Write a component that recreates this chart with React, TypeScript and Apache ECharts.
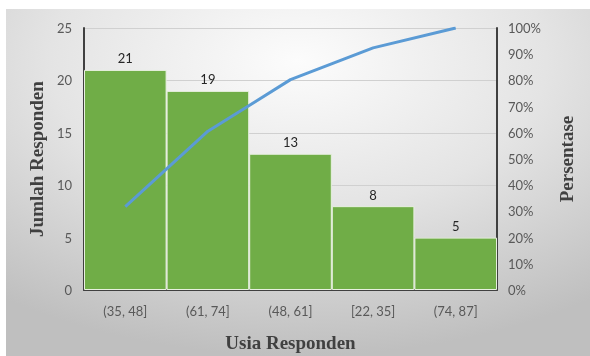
import React, { useEffect, useRef } from "react";
import * as echarts from "echarts";

const categories = ["(35, 48]", "(61, 74]", "(48, 61]", "[22, 35]", "(74, 87]"];
const counts = [21, 19, 13, 8, 5];
const cumulativePct = [0.318, 0.606, 0.803, 0.924, 1.0];
const leftTicks = { min: 0, max: 25, interval: 5 };
const rightTicks = { min: 0, max: 1, interval: 0.1 };

export default function App() {
  const ref = useRef<HTMLDivElement>(null);
  useEffect(() => {
    document.body.style.margin = "0";
    const chart = echarts.init(ref.current!, null, { renderer: "svg" });
    const labelFont = "Lato";
    const titleStyle = {
      fontFamily: "Liberation Serif",
      fontWeight: "bold" as const,
      fontSize: 19,
      color: "#404040",
    };
    chart.setOption({
      animation: false,
      graphic: [
        {
          type: "rect",
          z: -10,
          silent: true,
          shape: { x: 6, y: 9, width: 584, height: 347 },
          style: {
            fill: new echarts.graphic.RadialGradient(0.5, 0.15, 0.85, [
              { offset: 0, color: "#fcfcfc" },
              { offset: 0.5, color: "#e4e4e4" },
              { offset: 1, color: "#bfbfbf" },
            ]),
          },
        },
      ],
      grid: { left: 84, right: 93, top: 28, bottom: 66, outerBoundsMode: "none", containLabel: false },
      xAxis: {
        type: "category",
        data: categories,
        boundaryGap: true,
        axisLine: { show: true, lineStyle: { color: "#404040", width: 2 } },
        axisTick: { show: false },
        axisLabel: { color: "#595959", fontSize: 13, fontFamily: labelFont, margin: 14 },
        name: "Usia Responden",
        nameLocation: "middle",
        nameGap: 43,
        nameTextStyle: titleStyle,
      },
      yAxis: [
        {
          type: "value",
          min: leftTicks.min,
          max: leftTicks.max,
          interval: leftTicks.interval,
          axisLine: { show: true, lineStyle: { color: "#404040", width: 2 } },
          axisTick: { show: false },
          axisLabel: { color: "#595959", fontSize: 13, fontFamily: labelFont, margin: 12 },
          splitLine: { show: true, lineStyle: { color: "#d0d0d0", width: 1 } },
          name: "Jumlah Responden",
          nameLocation: "middle",
          nameRotate: 90,
          nameGap: 38,
          nameTextStyle: titleStyle,
        },
        {
          type: "value",
          position: "right",
          min: rightTicks.min,
          max: rightTicks.max,
          interval: rightTicks.interval,
          axisLine: { show: true, lineStyle: { color: "#404040", width: 2 } },
          axisTick: { show: false },
          axisLabel: {
            color: "#595959",
            fontSize: 13,
            fontFamily: labelFont,
            margin: 11,
            formatter: (v: number) => Math.round(v * 100) + "%",
          },
          splitLine: { show: false },
          name: "Persentase",
          nameLocation: "middle",
          nameRotate: 90,
          nameGap: 60,
          nameTextStyle: titleStyle,
        },
      ],
      series: [
        {
          type: "bar",
          data: counts,
          barCategoryGap: "0%",
          itemStyle: { color: "#70AD47", borderColor: "#e8f0e0", borderWidth: 1 },
          label: {
            show: true,
            position: "top",
            distance: 5,
            color: "#262626",
            fontSize: 13,
            fontFamily: labelFont,
          },
        },
        {
          type: "line",
          yAxisIndex: 1,
          data: cumulativePct,
          symbol: "none",
          lineStyle: { color: "#5B9BD5", width: 3 },
          z: 5,
        },
      ],
    });
    return () => chart.dispose();
  }, []);
  return <div ref={ref} style={{ position: "fixed", left: 0, top: 0, width: 590, height: 356 }} />;
}
